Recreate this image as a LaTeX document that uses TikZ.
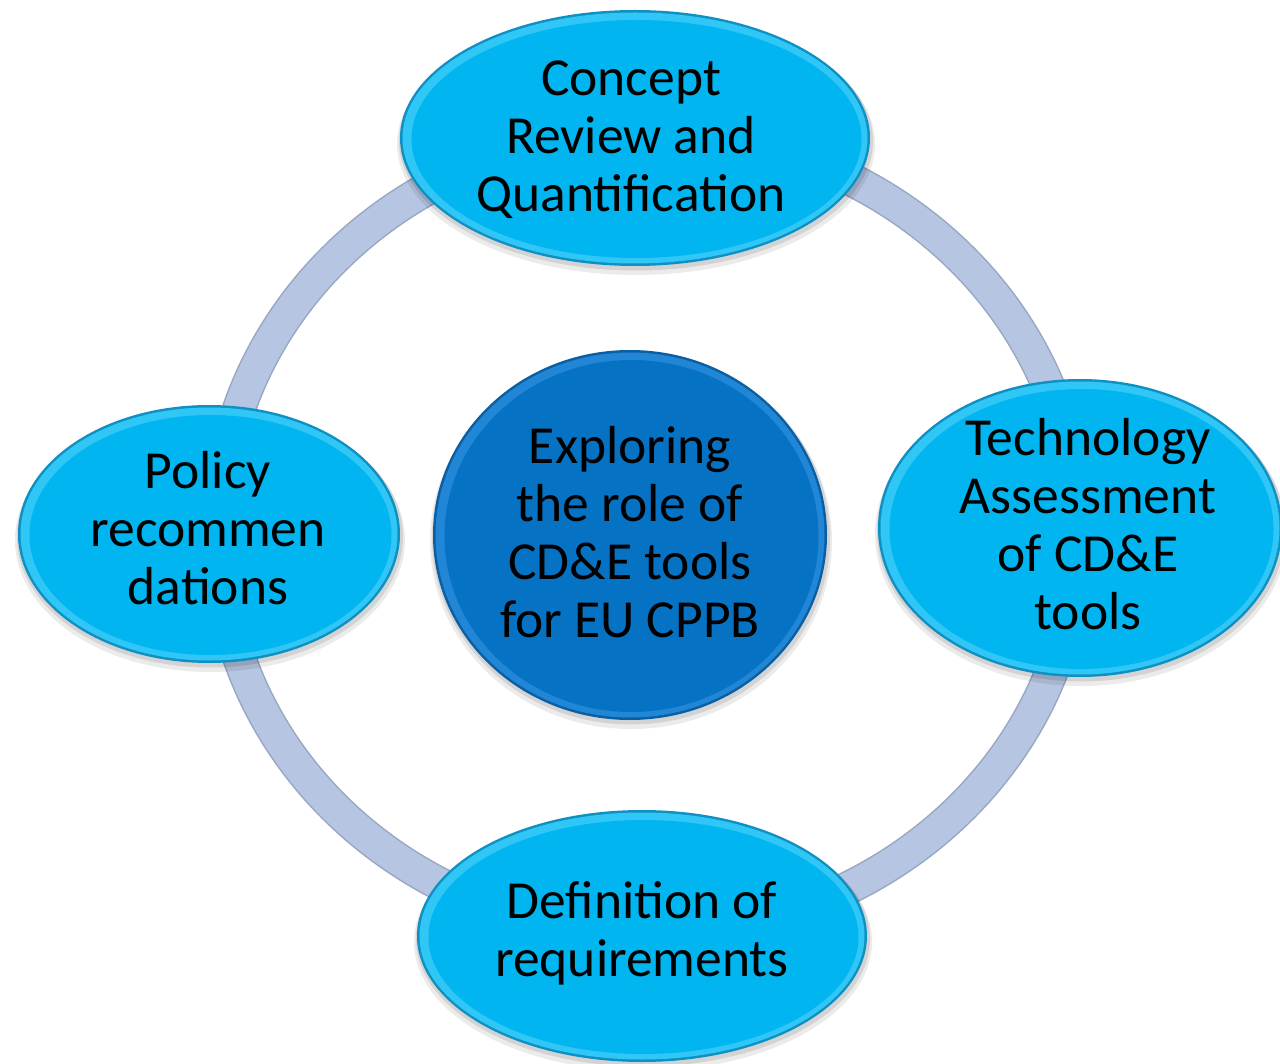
\documentclass[tikz,border=0pt]{standalone}
\usepackage{fontspec}
\setmainfont{Carlito}
\usetikzlibrary{shapes.geometric}
\definecolor{ringfill}{HTML}{B6C5E2}
\definecolor{ringedge}{HTML}{97A6C3}
\definecolor{cyanfill}{HTML}{00B5F0}
\definecolor{cyanedge}{HTML}{0E90C2}
\definecolor{cyanrim}{HTML}{30C6F6}
\definecolor{bluefill}{HTML}{0672C3}
\definecolor{blueedge}{HTML}{0A5FA3}
\definecolor{bluerim}{HTML}{2286D6}
\newcommand\ts{\rule[-13pt]{0pt}{54pt}}
\newcommand\blobshape[6]{%
  \fill[black,opacity=0.08] (#2+1,#3+6) ellipse [x radius=#4+4, y radius=#5+3];
  \fill[black,opacity=0.10] (#2+1,#3+3) ellipse [x radius=#4+2, y radius=#5+1.5];
  \node[blob, minimum width={2*#4pt}, minimum height={2*#5pt}, fill=#6edge] (#1) at (#2,#3) {};
  \fill[#6rim] (#2,#3) ellipse [x radius=#4-2.5, y radius=#5-2.5];
  \fill[#6fill] (#2+1.5,#3+1) ellipse [x radius=#4-10, y radius=#5-9];
}
\begin{document}
\begin{tikzpicture}[x=1pt,y=-1pt,
  blob/.style={ellipse, inner sep=0pt, outer sep=0pt},
  lbl/.style={font=\fontsize{53.5}{58}\selectfont, align=center, inner sep=0pt, text=black},
  ringstyle/.style={ellipse, inner sep=0pt, minimum width=860pt, minimum height=802pt,
    draw=ringedge, line width=34pt,
    postaction={draw=ringfill, line width=31pt}}]
\useasboundingbox (0,0) rectangle (1280,1064);
\fill[white] (0,0) rectangle (1280,1064);
% ring
\node[ringstyle] (ring) at (648,533) {};
% outer blobs
\blobshape{top}{635}{138}{235}{128}{cyan}
\blobshape{right}{1080}{528}{202}{149}{cyan}
\blobshape{left}{209}{534}{191}{129}{cyan}
\blobshape{bottom}{642}{936}{225}{126}{cyan}
\blobshape{hub}{630}{535}{197}{185}{blue}
% labels
\node[lbl] (toptxt) at (631,139.5) {\ts Concept\\Review and\\Quantification\ts};
\node[lbl] (righttxt) at (1088,528.5) {\ts Technology\\Assessment\\of CD\&E\\tools\ts};
\node[lbl] (lefttxt) at (208,532.5) {\ts Policy\\recommen\\dations\ts};
\node[lbl] (bottomtxt) at (642,933.5) {\ts Definition of\\requirements\ts};
\node[lbl] (hubtxt) at (630,536) {\ts Exploring\\the role of\\CD\&E tools\\for EU CPPB\ts};
\end{tikzpicture}
\end{document}
